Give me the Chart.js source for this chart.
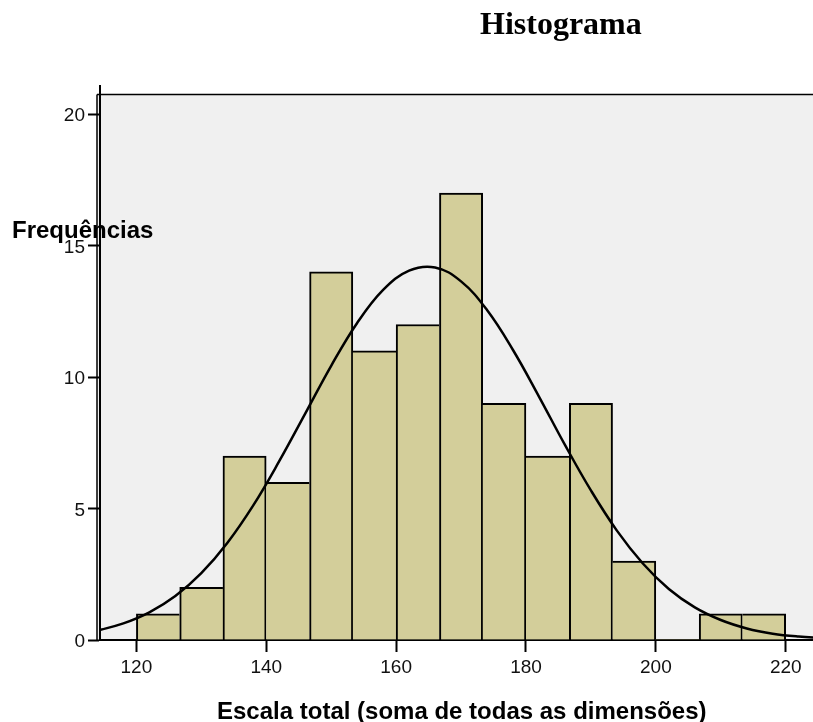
<!DOCTYPE html>
<html>
<head>
<meta charset="utf-8">
<script src="https://cdn.jsdelivr.net/npm/chart.js@4.4.1/dist/chart.umd.min.js"></script>
<style>
  html, body { margin: 0; padding: 0; background: #fff; overflow: hidden; }
  #wrap { position: relative; width: 813px; height: 722px; }
  .lbl { position: absolute; white-space: nowrap; line-height: 1; color: #000; }
  #title { left: 480px; top: 5px; font: bold 32px "Liberation Serif", "Times New Roman", serif; }
  #ytitle { left: 12px; top: 216px; font: bold 24px "Liberation Sans", Arial, sans-serif; }
  #xtitle { left: 217px; top: 697px; font: bold 24px "Liberation Sans", Arial, sans-serif; }
</style>
</head>
<body>
<div id="wrap">
  <canvas id="histChart" width="813" height="722"></canvas>
  <div class="lbl" id="title">Histograma</div>
  <div class="lbl" id="ytitle">Frequências</div>
  <div class="lbl" id="xtitle">Escala total (soma de todas as dimensões)</div>
</div>
<script>
// bins of the histogram (lower edge of each bin) and counts
const binStart = [120, 126.67, 133.33, 140, 146.67, 153.33, 160, 166.67, 173.33, 180, 186.67, 193.33, 200, 206.67, 213.33];
const binWidth = 20 / 3;
const frequencies = [1, 2, 7, 6, 14, 11, 12, 17, 9, 7, 9, 3, 0, 1, 1];

// normal curve
const curveX = [114, 118, 122, 126, 130, 134, 138, 142, 146, 150, 154, 158, 162, 166, 170, 174, 178, 182, 186, 190, 194, 198, 202, 206, 210, 214, 218, 222, 226];
const curveY = [0.36, 0.63, 1.05, 1.67, 2.54, 3.69, 5.12, 6.80, 8.61, 10.43, 12.06, 13.32, 14.05, 14.17, 13.64, 12.55, 11.03, 9.26, 7.42, 5.69, 4.16, 2.91, 1.94, 1.24, 0.76, 0.44, 0.24, 0.13, 0.07];

const xTicks = [120, 140, 160, 180, 200, 220];
const yTicks = [0, 5, 10, 15, 20];

const barData = binStart.map((b, i) => ({ x: b + binWidth / 2, y: frequencies[i] }));
const curveData = curveX.map((x, i) => ({ x: x, y: curveY[i] }));

// grey plot frame
const framePlugin = {
    id: 'frame',
    beforeDraw(chart) {
        const ctx = chart.ctx;
        const a = chart.chartArea;
        ctx.save();
        ctx.fillStyle = '#f0f0f0';
        ctx.fillRect(a.left - 3, a.top, a.right - a.left + 3, a.bottom - a.top);
        ctx.strokeStyle = '#000';
        ctx.lineWidth = 1.5;
        ctx.beginPath();
        ctx.moveTo(a.left - 3, a.top - 0.5);
        ctx.lineTo(a.right, a.top - 0.5);
        ctx.moveTo(a.left - 3, a.top - 0.5);
        ctx.lineTo(a.left - 3, a.bottom);
        ctx.stroke();
        ctx.lineWidth = 2;
        ctx.beginPath();
        ctx.moveTo(a.left, a.top - 10);
        ctx.lineTo(a.left, a.top);
        ctx.stroke();
        ctx.restore();
    }
};

const tickFont = { family: '"Liberation Sans", Arial, sans-serif', size: 19 };

// the taller bar of each adjacent pair draws the shared edge, so lines stay single
function barBorder(ctx) {
    const i = ctx.dataIndex;
    const f = frequencies;
    const left = (i === 0 || f[i - 1] < f[i]) ? 2 : 0;
    const right = (i === f.length - 1 || f[i + 1] <= f[i]) ? 2 : 0;
    return { top: 2, left: left, right: right, bottom: 0 };
}

new Chart(document.getElementById('histChart'), {
    data: {
        datasets: [
            {
                type: 'line',
                data: curveData,
                borderColor: '#000',
                borderWidth: 2.5,
                pointRadius: 0,
                tension: 0.4,
                fill: false,
                order: 0
            },
            {
                type: 'bar',
                data: barData,
                backgroundColor: '#d3ce9a',
                borderColor: '#000',
                borderWidth: barBorder,
                borderSkipped: false,
                barPercentage: 1,
                categoryPercentage: 1,
                order: 1
            }
        ]
    },
    options: {
        responsive: false,
        animation: false,
        layout: { padding: { top: 95, left: 0, right: 0, bottom: 0 } },
        plugins: { legend: { display: false }, tooltip: { enabled: false } },
        scales: {
            x: {
                type: 'linear',
                offset: false,
                min: 114.4,
                max: 224.2,
                afterFit: s => { s.height = 82; },
                afterBuildTicks: s => { s.ticks = xTicks.map(v => ({ value: v })); },
                grid: { offset: false, drawOnChartArea: false, tickLength: 12, tickColor: '#000', tickWidth: 2 },
                border: { color: '#000', width: 2 },
                ticks: { color: '#111', font: tickFont, padding: 4, maxRotation: 0 }
            },
            y: {
                min: 0,
                max: 20.73,
                afterFit: s => { s.width = 100; },
                afterBuildTicks: s => { s.ticks = yTicks.map(v => ({ value: v })); },
                grid: { drawOnChartArea: false, tickLength: 12, tickColor: '#000', tickWidth: 2 },
                border: { color: '#000', width: 2 },
                ticks: { color: '#111', font: tickFont, padding: 3, labelOffset: 2 }
            }
        }
    },
    plugins: [framePlugin]
});
</script>
</body>
</html>
